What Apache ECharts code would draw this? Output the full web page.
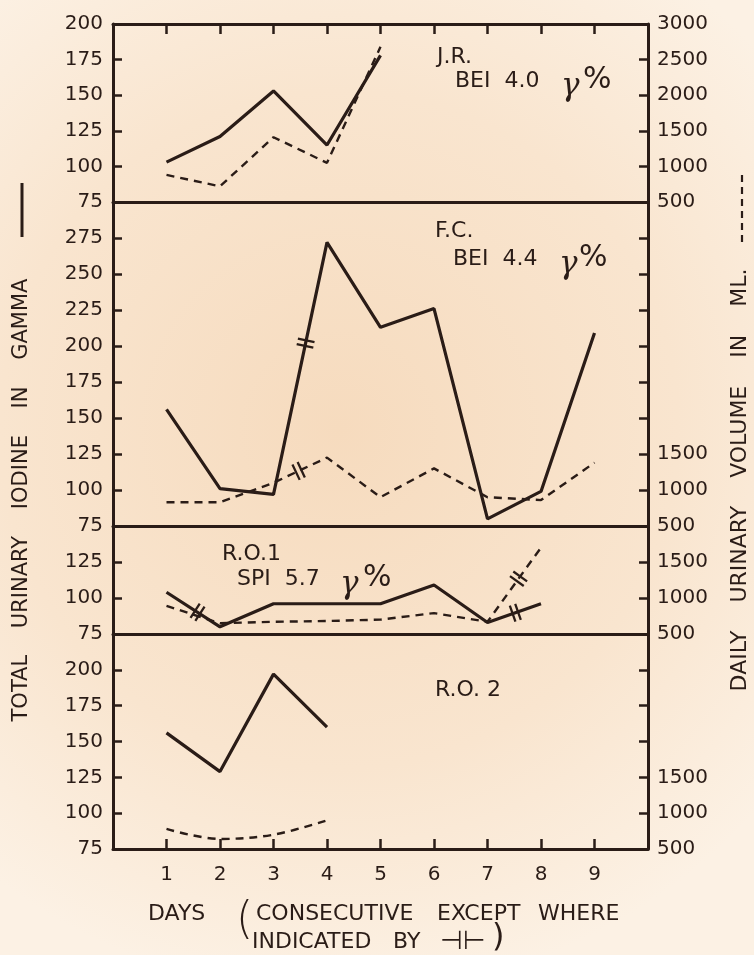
<!DOCTYPE html>
<html><head><meta charset="utf-8">
<script src="https://cdn.jsdelivr.net/npm/echarts@6/dist/echarts.min.js"></script>
<style>html,body{margin:0;padding:0;background:#f9e7d2}#c{width:754px;height:955px}</style>
</head><body><div id="c"></div>
<script>
// ---- data ----
const days = [1, 2, 3, 4, 5, 6, 7, 8, 9];
const xTickLabels = ['1', '2', '3', '4', '5', '6', '7', '8', '9'];
// J.R.
const jrIodine = [103, 121, 153, 115, 178];
const jrVolume = [880, 720, 1410, 1050, 2680];
// F.C.
const fcIodine = [156, 101, 97, 272, 213, 226, 80, 99, 209];
const fcVolume = [830, 830, 1100, 1450, 900, 1300, 900, 860, 1380];
// R.O.1
const ro1Iodine = [104, 80, 96, 96, 96, 109, 83, 96];
const ro1Volume = [890, 650, 670, 680, 700, 790, 670, 1700];
// R.O.2
const ro2Iodine = [156, 129, 197, 160];
const ro2Volume = [780, 640, 700, 900];
// breaks in consecutive days (panel, which line, day position on the segment)
const breaks = [
  { panel: 1, line: 'iodine', x: 3.6 },
  { panel: 1, line: 'volume', x: 3.47 },
  { panel: 2, line: 'iodine', x: 1.58 },
  { panel: 2, line: 'iodine', x: 7.52 },
  { panel: 2, line: 'volume', x: 7.58 }
];

// ---- styling / layout ----
const ink = '#2a1c17';
const FONT = 'DejaVu Sans';
const panels = [
  { top: 24, height: 178, yMin: 75, yMax: 200, vMin: 500, vMax: 3000, iodine: jrIodine, volume: jrVolume, all: true },
  { top: 202, height: 324, yMin: 75, yMax: 300, vMin: 500, vMax: 5000, iodine: fcIodine, volume: fcVolume },
  { top: 526, height: 108, yMin: 75, yMax: 150, vMin: 500, vMax: 2000, iodine: ro1Iodine, volume: ro1Volume },
  { top: 634, height: 215, yMin: 75, yMax: 225, vMin: 500, vMax: 3500, iodine: ro2Iodine, volume: ro2Volume, smooth: true }
];

const toPairs = arr => arr.map((v, i) => [days[i], v]);
const axisLineStyle = { color: ink, width: 3 };
const tickStyle = { color: ink, width: 2.5 };

const grid = panels.map(p => ({ left: 113, width: 535, top: p.top, height: p.height }));
const xAxis = panels.map((p, i) => ({
  gridIndex: i, type: 'value', min: 0, max: 10, interval: 1, position: 'bottom',
  axisLine: { onZero: false, lineStyle: axisLineStyle },
  axisTick: { show: i === 3, inside: true, length: 10, lineStyle: tickStyle },
  axisLabel: {
    show: i === 3, margin: 16, color: ink, fontFamily: FONT, fontSize: 20,
    formatter: v => { const k = days.indexOf(v); return k >= 0 ? xTickLabels[k] : ''; }
  },
  splitLine: { show: false }
}));
xAxis.push({
  gridIndex: 0, type: 'value', min: 0, max: 10, interval: 1, position: 'top',
  axisLine: { onZero: false, lineStyle: axisLineStyle },
  axisTick: { show: true, inside: true, length: 10, lineStyle: tickStyle },
  axisLabel: { show: false }, splitLine: { show: false }
});

const yAxis = [];
panels.forEach((p, i) => {
  yAxis.push({
    gridIndex: i, type: 'value', position: 'left', min: p.yMin, max: p.yMax, interval: 25,
    axisLine: { show: true, onZero: false, lineStyle: axisLineStyle },
    axisTick: { show: true, inside: true, length: 9, lineStyle: tickStyle },
    axisLabel: {
      color: ink, fontFamily: FONT, fontSize: 20, margin: 10,
      formatter: v => (p.all || v < p.yMax) ? String(v) : ''
    },
    splitLine: { show: false }
  });
  yAxis.push({
    gridIndex: i, type: 'value', position: 'right', min: p.vMin, max: p.vMax, interval: 500,
    axisLine: { show: true, onZero: false, lineStyle: axisLineStyle },
    axisTick: { show: true, inside: true, length: 9, lineStyle: tickStyle },
    axisLabel: {
      color: ink, fontFamily: FONT, fontSize: 20, margin: 9,
      formatter: v => (p.all || v <= 1500) ? String(v) : ''
    },
    splitLine: { show: false }
  });
});

const series = [];
panels.forEach((p, i) => {
  series.push({
    type: 'line', xAxisIndex: i, yAxisIndex: 2 * i, data: toPairs(p.iodine),
    symbol: 'none', lineStyle: { color: ink, width: 3.2 }, z: 3, silent: true
  });
  series.push({
    type: 'line', xAxisIndex: i, yAxisIndex: 2 * i + 1, data: toPairs(p.volume),
    symbol: 'none', smooth: p.smooth ? 0.35 : false,
    lineStyle: { color: ink, width: 2.4, type: [8, 6] }, z: 3, silent: true
  });
});

function breakPoint(b) {
  const arr = panels[b.panel][b.line];
  const i0 = Math.floor(b.x) - 1, i1 = i0 + 1;
  const t = b.x - Math.floor(b.x);
  return { a: [days[i0], arr[i0]], b: [days[i1], arr[i1]], pos: [b.x, arr[i0] + (arr[i1] - arr[i0]) * t] };
}
const breakSym = 'path://M0,0H2V16H0ZM5,0H7V16H5Z';
breaks.forEach(b => {
  const bp = breakPoint(b);
  series.push({
    type: 'scatter', xAxisIndex: b.panel, yAxisIndex: 2 * b.panel + (b.line === 'iodine' ? 0 : 1),
    data: [{ value: bp.pos }], symbol: breakSym, symbolSize: [8, 17],
    itemStyle: { color: ink, opacity: 1 }, z: 5, silent: true
  });
});

const txt = (text, x, y, size, opts = {}) => ({
  type: 'text', x, y, rotation: opts.rot || 0, silent: true,
  style: {
    text, fill: ink, font: (opts.style || '') + ' ' + size + 'px ' + (opts.family || FONT),
    textAlign: opts.align || 'left', textVerticalAlign: 'middle'
  }
});
const gam = (x, y) => txt('γ', x, y, 31, { style: 'italic', family: 'DejaVu Serif' });

const graphic = [
  // panel annotations
  txt('J.R.', 437, 57, 22),
  txt('BEI  4.0', 455, 81, 22),
  gam(561, 87), txt('%', 583, 80, 30),
  txt('F.C.', 435, 231, 22),
  txt('BEI  4.4', 453, 259, 22),
  gam(559, 265), txt('%', 579, 258, 30),
  txt('R.O.1', 222, 554, 22),
  txt('SPI  5.7', 237, 579, 22),
  gam(340, 585), txt('%', 363, 578, 30),
  txt('R.O. 2', 435, 690, 22),
  // axis titles
  txt('TOTAL    URINARY    IODINE    IN    GAMMA', 22, 500, 21, { rot: Math.PI / 2, align: 'center' }),
  txt('DAILY    URINARY    VOLUME    IN    ML.', 740, 480, 22, { rot: Math.PI / 2, align: 'center' }),
  { type: 'line', silent: true, shape: { x1: 22, y1: 183, x2: 22, y2: 237 }, style: { stroke: ink, lineWidth: 3 } },
  { type: 'line', silent: true, shape: { x1: 742, y1: 175, x2: 742, y2: 245 }, style: { stroke: ink, lineWidth: 2.2, lineDash: [7, 5] } },
  // x title
  txt('DAYS', 148, 914, 22),
  txt('(', 236, 922, 44, { style: '100' }),
  txt('CONSECUTIVE', 256, 914, 22),
  txt('EXCEPT', 437, 914, 22),
  txt('WHERE', 538, 914, 22),
  txt('INDICATED', 252, 942, 22),
  txt('BY', 393, 942, 22),
  txt('⊣⊢', 440, 942, 26),
  txt(')', 492, 938, 32)
];

const chart = echarts.init(document.getElementById('c'));
chart.setOption({
  animation: false,
  backgroundColor: {
    type: 'radial', x: 0.45, y: 0.45, r: 0.75,
    colorStops: [{ offset: 0, color: '#f6dbbe' }, { offset: 0.6, color: '#f9e5cf' }, { offset: 1, color: '#fcf1e4' }]
  },
  grid, xAxis, yAxis, series, graphic
});

// orient break marks perpendicular to their segments
const nBase = panels.length * 2;
const upd = breaks.map((b, k) => {
  const bp = breakPoint(b);
  const sIdx = 2 * b.panel + (b.line === 'iodine' ? 0 : 1);
  const p1 = chart.convertToPixel({ seriesIndex: sIdx }, bp.a);
  const p2 = chart.convertToPixel({ seriesIndex: sIdx }, bp.b);
  const ang = Math.atan2(-(p2[1] - p1[1]), p2[0] - p1[0]) * 180 / Math.PI;
  return { data: [{ value: bp.pos, symbolRotate: ang }] };
});
const full = chart.getOption().series.map((s, i) => i >= nBase ? upd[i - nBase] : {});
chart.setOption({ series: full });
</script>
</body></html>
